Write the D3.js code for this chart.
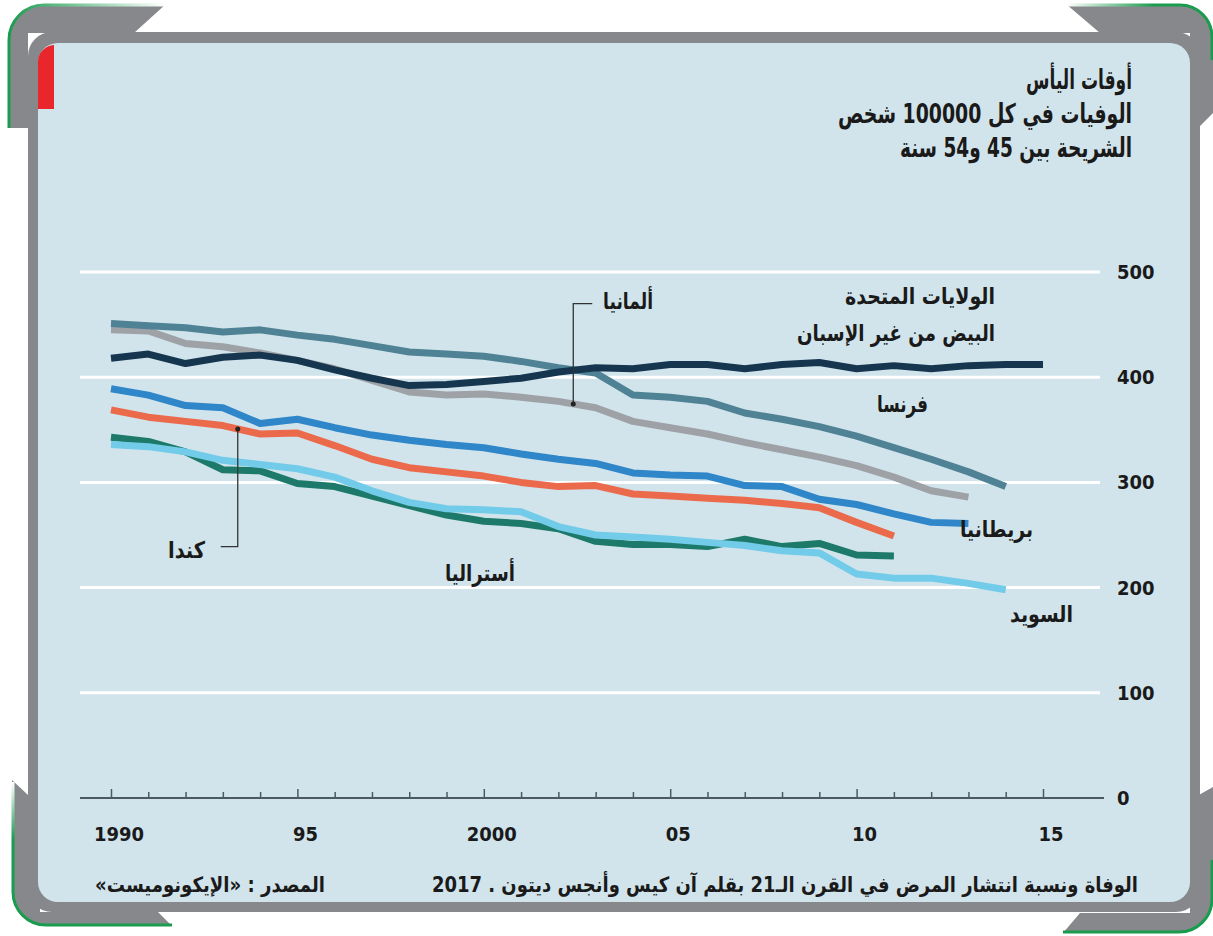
<!DOCTYPE html>
<html>
<head>
<meta charset="utf-8">
<script src="https://cdn.jsdelivr.net/npm/d3@7"></script>
<style>
  html, body { margin: 0; padding: 0; background: #fff; }
  svg text { font-family: "DejaVu Sans Condensed", "DejaVu Sans", sans-serif; font-weight: bold; fill: #1a1a1a; }
</style>
</head>
<body>
<div id="plot"></div>
<script>
// deaths per 100,000, ages 45-54
const startYear = 1990;
const usWhite   = [418,422,413,419,421,416,407,399,392,393,396,399,405,409,408,412,412,408,412,414,408,411,408,411,412,412];
const france    = [451,449,447,443,445,440,436,430,424,422,420,415,409,404,383,381,377,366,360,353,344,333,322,310,296];
const germany   = [445,444,432,429,423,416,408,397,386,383,384,381,377,371,358,352,346,338,331,324,316,305,292,286];
const britain   = [389,383,373,371,356,360,352,345,340,336,333,327,322,318,309,307,306,297,296,284,279,270,262,261];
const canada    = [369,362,358,354,346,347,335,322,314,310,306,300,296,297,289,287,285,283,280,276,262,249];
const australia = [343,339,329,312,311,299,296,287,278,269,263,261,256,244,241,241,239,246,239,242,231,230];
const sweden    = [336,334,329,321,317,313,305,292,281,275,274,272,258,250,248,246,243,240,235,233,213,209,209,204,198];

const yTicks = [0, 100, 200, 300, 400, 500];
const xLabels = [[1990, "1990"], [1995, "95"], [2000, "2000"], [2005, "05"], [2010, "10"], [2015, "15"]];

const titleLines = ["أوقات اليأس", "الوفيات في كل 100000 شخص", "الشريحة بين 45 و54 سنة"];
const sourceText = "المصدر : «الإيكونوميست»";
const creditText = "الوفاة ونسبة انتشار المرض في القرن الـ21 بقلم آن كيس وأنجس ديتون . 2017";

// draw order: bottom first
const series = [
  { name: "australia", values: australia, color: "#1d7a6a" },
  { name: "sweden",    values: sweden,    color: "#72cbe8" },
  { name: "canada",    values: canada,    color: "#ec6a4c" },
  { name: "britain",   values: britain,   color: "#2f86c8" },
  { name: "germany",   values: germany,   color: "#9ea2a7" },
  { name: "france",    values: france,    color: "#4f8295" },
  { name: "usWhite",   values: usWhite,   color: "#163650" }
];

const W = 1213, H = 936;
const svg = d3.select("#plot").append("svg")
  .attr("width", W)
  .attr("height", H);

const x = d3.scaleLinear().domain([1990, 2015]).range([111, 1043]);
const y = d3.scaleLinear().domain([0, 500]).range([798, 272]);

// ---- frame ----
const gray = "#87888c", green = "#1a9c4e", panel = "#d1e4ec";
const defs = svg.append("defs");
const gTop = defs.append("linearGradient").attr("id", "gTop").attr("x1", "0%").attr("x2", "100%");
gTop.append("stop").attr("offset", "0%").attr("stop-color", green);
gTop.append("stop").attr("offset", "100%").attr("stop-color", "#fff");
const gTopR = defs.append("linearGradient").attr("id", "gTopR").attr("x1", "0%").attr("x2", "100%");
gTopR.append("stop").attr("offset", "0%").attr("stop-color", "#fff");
gTopR.append("stop").attr("offset", "60%").attr("stop-color", green);
const gBot = defs.append("linearGradient").attr("id", "gBot").attr("x1", "0%").attr("x2", "0%").attr("y1", "0%").attr("y2", "100%");
gBot.append("stop").attr("offset", "0%").attr("stop-color", "#fff");
gBot.append("stop").attr("offset", "40%").attr("stop-color", green);

// corner pieces
svg.append("path").attr("fill", gray)
  .attr("d", "M8,128 L8,40 A36,36 0 0 1 44,4 L166,4 L134,33 L28,33 L28,128 Z");
svg.append("path").attr("fill", "none").attr("stroke", "url(#gTop)").attr("stroke-width", 3)
  .attr("d", "M9,128 L9,40 A35,35 0 0 1 44,5 L166,5");
svg.append("path").attr("fill", gray)
  .attr("d", "M1066,4 L1180,4 A33,33 0 0 1 1213,37 L1213,113 L1200,126 L1190,126 L1190,33 L1100,33 Z");
svg.append("path").attr("fill", "none").attr("stroke", "url(#gTopR)").attr("stroke-width", 3)
  .attr("d", "M1066,5 L1180,5 A32,32 0 0 1 1212,37 L1212,60");
svg.append("path").attr("fill", gray)
  .attr("d", "M12,780 L28,795 L40,795 L40,912 L158,912 L172,926 L46,926 A34,34 0 0 1 12,892 Z");
svg.append("path").attr("fill", "none").attr("stroke", "url(#gBot)").attr("stroke-width", 3)
  .attr("d", "M13,782 L13,892 A33,33 0 0 0 46,925 L172,925");
svg.append("path").attr("fill", gray)
  .attr("d", "M1213,787 L1213,899 A34,34 0 0 1 1179,933 L1063,933 L1080,913 L1190,913 L1190,800 Z");
svg.append("path").attr("fill", "none").attr("stroke", green).attr("stroke-width", 3)
  .attr("d", "M1063,932 L1179,932 A33,33 0 0 0 1212,899 L1212,860");

// band + panel
svg.append("rect").attr("x", 28).attr("y", 32).attr("width", 1172).attr("height", 880)
  .attr("rx", 24).attr("fill", gray);
svg.append("rect").attr("x", 38).attr("y", 43).attr("width", 1152).attr("height", 859)
  .attr("rx", 20).attr("fill", panel);
svg.append("path").attr("fill", "#e8262b")
  .attr("d", "M38,109 L38,62 A17,17 0 0 1 54,45 L54,109 Z");

// right-to-left text, squeezed to the width it has in the original
const rtlText = (sel) => sel.attr("direction", "rtl").attr("text-anchor", "start");
const fitWidth = (sel, w) => sel.attr("textLength", w).attr("lengthAdjust", "spacingAndGlyphs");

// ---- title ----
const titleWidths = [106, 294, 232];
svg.selectAll("text.title")
  .data(titleLines)
  .enter().append("text")
  .attr("class", "title")
  .attr("x", 1132)
  .attr("y", (d, i) => 89 + i * 34)
  .attr("font-size", "27px")
  .attr("textLength", (d, i) => titleWidths[i])
  .attr("lengthAdjust", "spacingAndGlyphs")
  .call(rtlText)
  .text(d => d);

// ---- grid + y labels ----
svg.selectAll("line.grid")
  .data(yTicks.filter(d => d > 0))
  .enter().append("line")
  .attr("class", "grid")
  .attr("x1", 80).attr("x2", 1100)
  .attr("y1", d => y(d)).attr("y2", d => y(d))
  .attr("stroke", "#fff")
  .attr("stroke-width", 3);

svg.selectAll("text.ylab")
  .data(yTicks)
  .enter().append("text")
  .attr("class", "ylab")
  .attr("x", 1117)
  .attr("y", d => y(d) + 7)
  .attr("font-size", "20px")
  .text(d => d);

// ---- x axis ----
const xAxis = d3.axisBottom(x)
  .tickValues(d3.range(1990, 2016))
  .tickSize(0)
  .tickFormat("");
const axisG = svg.append("g")
  .attr("transform", `translate(0,${y(0)})`)
  .call(xAxis);
axisG.select(".domain").remove();
axisG.append("line")
  .attr("x1", 80).attr("x2", 1104)
  .attr("stroke", "#4b5a61").attr("stroke-width", 2);
axisG.selectAll(".tick").append("line")
  .attr("y1", 0)
  .attr("y2", d => (d % 5 === 0 ? -9 : -6))
  .attr("stroke", "#4b5a61")
  .attr("stroke-width", 1.5);

svg.selectAll("text.xlab")
  .data(xLabels)
  .enter().append("text")
  .attr("class", "xlab")
  .attr("x", d => x(d[0]) + 8)
  .attr("y", 841)
  .attr("text-anchor", "middle")
  .attr("font-size", "20px")
  .text(d => d[1]);

// ---- lines ----
const line = d3.line()
  .x((d, i) => x(startYear + i))
  .y(d => y(d));

svg.selectAll("path.series")
  .data(series)
  .enter().append("path")
  .attr("class", "series")
  .attr("d", d => line(d.values))
  .attr("fill", "none")
  .attr("stroke", d => d.color)
  .attr("stroke-width", 7)
  .attr("stroke-linejoin", "round");

// ---- annotations ----
const interp = (arr, yr) => {
  const i = Math.floor(yr - startYear), t = yr - startYear - i;
  return arr[i] + (arr[i + 1] - arr[i]) * t;
};

// Germany pointer
const gerYr = 2002.4;
const gx = x(gerYr), gy = y(interp(germany, gerYr));
svg.append("path").attr("fill", "none").attr("stroke", "#333").attr("stroke-width", 1.3)
  .attr("d", `M${gx},${gy} L${gx},${y(470)} L${gx + 19},${y(470)}`);
svg.append("circle").attr("cx", gx).attr("cy", gy).attr("r", 2.5).attr("fill", "#222");

// Canada pointer
const canYr = 1993.4;
const cx = x(canYr), cy = y(interp(canada, canYr));
svg.append("path").attr("fill", "none").attr("stroke", "#333").attr("stroke-width", 1.3)
  .attr("d", `M${cx},${cy} L${cx},${y(239)} L${cx - 17},${y(239)}`);
svg.append("circle").attr("cx", cx).attr("cy", cy).attr("r", 2.5).attr("fill", "#222");

const labels = [
  { text: "ألمانيا", x: 653, y: 309, w: 50 },
  { text: "الولايات المتحدة", x: 995, y: 304, w: 150 },
  { text: "البيض من غير الإسبان", x: 995, y: 341, w: 198 },
  { text: "فرنسا", x: 928, y: 412, w: 51 },
  { text: "كندا", x: 205, y: 558, w: 37 },
  { text: "بريطانيا", x: 1033, y: 537, w: 73 },
  { text: "أستراليا", x: 515, y: 581, w: 70 },
  { text: "السويد", x: 1073, y: 622, w: 63 }
];
svg.selectAll("text.lab")
  .data(labels)
  .enter().append("text")
  .attr("class", "lab")
  .attr("x", d => d.x)
  .attr("y", d => d.y)
  .attr("font-size", "23px")
  .attr("textLength", d => d.w)
  .attr("lengthAdjust", "spacingAndGlyphs")
  .call(rtlText)
  .text(d => d.text);

// ---- footer ----
svg.append("text").attr("x", 325).attr("y", 892).attr("font-size", "21px")
  .call(rtlText).call(fitWidth, 230).text(sourceText);
svg.append("text").attr("x", 1138).attr("y", 892).attr("font-size", "21px")
  .call(rtlText).call(fitWidth, 706).text(creditText);
</script>
</body>
</html>
